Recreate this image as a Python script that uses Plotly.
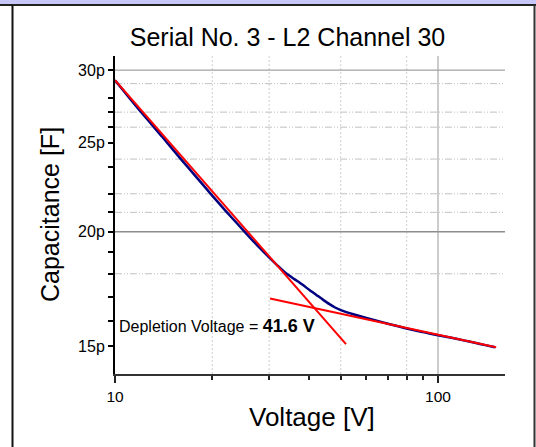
import plotly.graph_objects as go

# ---------------- data ----------------
voltage = [10, 12, 14, 16, 18, 20, 22, 24, 26, 28, 30, 32, 34, 36, 38, 40, 42, 44,
           46, 48, 50, 52, 55, 60, 65, 70, 80, 90, 100, 110, 120, 130, 140, 150]
capacitance_pF = [29.25, 27.04, 25.38, 24.00, 22.87, 21.90, 21.08, 20.38, 19.76, 19.22,
                  18.76, 18.35, 18.00, 17.75, 17.52, 17.28, 17.07, 16.87, 16.69, 16.54,
                  16.43, 16.35, 16.25, 16.11, 15.99, 15.88, 15.69, 15.55, 15.43, 15.33,
                  15.23, 15.14, 15.05, 14.97]

fit_low_v = [10, 51.9]
fit_low_c = [29.25, 15.09]
fit_high_v = [30.2, 151.4]
fit_high_c = [16.92, 14.97]
depletion_voltage = 41.6

y_tick_vals = [15, 20, 25, 30]
y_tick_text = ["15p", "20p", "25p", "30p"]
y_minor_ticks = [16, 17, 18, 19, 21, 22, 23.5, 26, 27, 28]
x_tick_vals = [10, 100]
x_tick_text = ["10", "100"]
x_minor_ticks = [20, 30, 40, 50, 60, 70, 80, 90]

y_grid_solid = [20, 30]
y_grid_dashed = [29, 27, 26, 24, 22, 21, 18]
x_grid_solid = [100]
x_grid_dashed = [20, 30, 50, 80]

x_lo, x_hi = 10, 161.2
y_lo, y_hi = 14.0, 31.08

# ---------------- figure ----------------
fig = go.Figure()

def hline(v, color, width, dash):
    fig.add_trace(go.Scatter(x=[x_lo, x_hi], y=[v, v], mode="lines",
                             line=dict(color=color, width=width, dash=dash),
                             hoverinfo="skip", showlegend=False))

def vline(v, color, width, dash):
    fig.add_trace(go.Scatter(x=[v, v], y=[y_lo, y_hi], mode="lines",
                             line=dict(color=color, width=width, dash=dash),
                             hoverinfo="skip", showlegend=False))

grid_dash = "7px,2px,1px,2px,1px,2px"
for v in y_grid_dashed:
    hline(v, "#c0c0c0", 1, grid_dash)
for v in x_grid_dashed:
    vline(v, "#cfcfcf", 1, "2px,2px")
for v in y_grid_solid:
    hline(v, "#8c8c8c", 1.5 if v == 20 else 1, "solid")
for v in x_grid_solid:
    vline(v, "#999999", 1, "solid")

fig.add_trace(go.Scatter(x=voltage, y=capacitance_pF, mode="lines",
                         line=dict(color="#000080", width=2.5, shape="spline", smoothing=0.6),
                         showlegend=False))
fig.add_trace(go.Scatter(x=fit_low_v, y=fit_low_c, mode="lines",
                         line=dict(color="#ff0000", width=2), showlegend=False))
fig.add_trace(go.Scatter(x=fit_high_v, y=fit_high_c, mode="lines",
                         line=dict(color="#ff0000", width=2), showlegend=False))

W, H = 536, 447
L, R, T, B = 115, 31, 56, 73
pw, ph = W - L - R, H - T - B

def px(x):
    return (x - L) / pw

def py(y):
    return (H - B - y) / ph

font_family = "Liberation Sans, Arial, sans-serif"

fig.update_layout(
    width=W, height=H,
    margin=dict(l=L, r=R, t=T, b=B, pad=0),
    paper_bgcolor="white", plot_bgcolor="white",
    font=dict(family=font_family, color="black"),
    title=dict(text="Serial No. 3 - L2 Channel 30", font=dict(size=25, color="black"),
               x=287.5 / W, xref="container", xanchor="center",
               y=1 - 37 / H, yref="container", yanchor="middle"),
    xaxis=dict(type="log", range=[1, 2.2074], showgrid=False, zeroline=False,
               showline=True, linecolor="#333333", linewidth=2,
               tickmode="array", tickvals=x_tick_vals, ticktext=x_tick_text,
               ticks="outside", ticklen=7, tickwidth=2, tickcolor="#222222",
               tickfont=dict(size=15.5, color="black"),
               minor=dict(tickmode="array", tickvals=x_minor_ticks, ticks="outside",
                          ticklen=4, tickwidth=2, tickcolor="#222222", showgrid=False)),
    yaxis=dict(type="log", range=[1.1461, 1.4925], showgrid=False, zeroline=False,
               showline=True, linecolor="black", linewidth=2,
               tickmode="array", tickvals=y_tick_vals, ticktext=y_tick_text,
               ticks="outside", ticklen=5, tickwidth=2, tickcolor="black",
               tickfont=dict(size=16, color="black"),
               minor=dict(tickmode="array", tickvals=y_minor_ticks, ticks="outside",
                          ticklen=5, tickwidth=2, tickcolor="black", showgrid=False)),
)

fig.add_annotation(text="Voltage [V]", xref="paper", yref="paper",
                   x=px(312), y=py(417), showarrow=False,
                   font=dict(size=26, color="black"), xanchor="center", yanchor="middle")
fig.add_annotation(text="Capacitance [F]", xref="paper", yref="paper",
                   x=px(50), y=py(215), showarrow=False, textangle=-90,
                   font=dict(size=25, color="black"), xanchor="center", yanchor="middle")
fig.add_annotation(text="Depletion Voltage = <span style='font-size:18px'><b>%.1f V</b></span>" % depletion_voltage,
                   xref="paper", yref="paper", x=px(117), y=py(326), showarrow=False,
                   font=dict(size=16, color="black"), xanchor="left", yanchor="middle")

# window frame
fig.add_shape(type="rect", xref="paper", yref="paper",
              x0=px(0), x1=px(W), y0=py(0), y1=py(4.5),
              fillcolor="#c8c8f8", line=dict(width=0), layer="above")
fig.add_shape(type="line", xref="paper", yref="paper",
              x0=px(0), x1=px(W), y0=py(5), y1=py(5),
              line=dict(color="#222222", width=2), layer="above")
fig.add_shape(type="line", xref="paper", yref="paper",
              x0=px(12.5), x1=px(12.5), y0=py(5), y1=py(H),
              line=dict(color="#111111", width=2), layer="above")
fig.add_shape(type="line", xref="paper", yref="paper",
              x0=px(534.5), x1=px(534.5), y0=py(5), y1=py(H),
              line=dict(color="#333333", width=2), layer="above")

fig.write_html("out.html")
